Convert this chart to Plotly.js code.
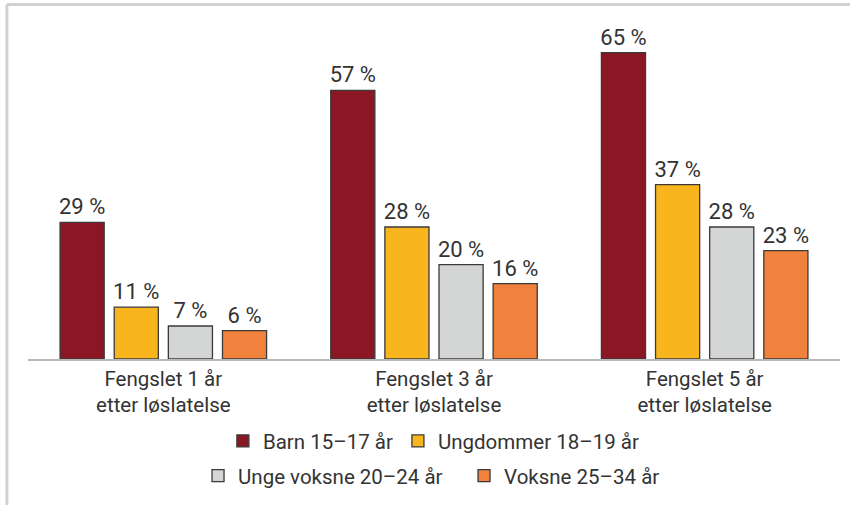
<!DOCTYPE html>
<html>
<head>
<meta charset="utf-8">
<script src="https://cdn.plot.ly/plotly-3.0.1.min.js"></script>
<style>html,body{margin:0;padding:0;background:#fff;}#chart{width:850px;height:505px;}</style>
</head>
<body>
<div id="chart"></div>
<script>
const categories = ["Fengslet 1 år<br>etter løslatelse", "Fengslet 3 år<br>etter løslatelse", "Fengslet 5 år<br>etter løslatelse"];
const seriesNames = ["Barn 15–17 år", "Ungdommer 18–19 år", "Unge voksne 20–24 år", "Voksne 25–34 år"];
const barn = [29, 57, 65];
const ungdommer = [11, 28, 37];
const ungeVoksne = [7, 20, 28];
const voksne = [6, 16, 23];
const colors = ["#8c1724", "#f8b51d", "#d4d6d5", "#f1823e"];

const xPos = categories.map((c, i) => i);
const seriesValues = [barn, ungdommer, ungeVoksne, voksne];
const legendIds = ["legend", "legend", "legend2", "legend2"];

const traces = seriesValues.map((vals, k) => ({
  type: "bar",
  name: seriesNames[k],
  x: xPos,
  y: vals,
  legend: legendIds[k],
  marker: { color: colors[k], line: { color: "#3a3a3a", width: 1.3 } },
  texttemplate: "%{y} %",
  textposition: "outside",
  constraintext: "none",
  cliponaxis: false,
  textfont: { family: "Roboto, sans-serif", size: 22, color: "#333333" },
  hoverinfo: "skip"
}));

const legendFont = { family: "Roboto, sans-serif", size: 20.5, color: "#333333" };

const layout = {
  width: 850,
  height: 505,
  margin: { l: 28, r: 10, t: 29, b: 145 },
  paper_bgcolor: "#ffffff",
  plot_bgcolor: "#ffffff",
  barmode: "group",
  bargap: 0.2,
  bargroupgap: 0.185,
  font: { family: "Roboto, sans-serif", size: 20, color: "#333333" },
  xaxis: {
    range: [-0.5, 2.5],
    tickmode: "array",
    tickvals: xPos,
    ticktext: categories,
    showline: true,
    linecolor: "#b8b8b8",
    linewidth: 2,
    ticks: "",
    showgrid: false,
    zeroline: false,
    fixedrange: true,
    tickfont: { family: "Roboto, sans-serif", size: 20.5, color: "#333333" }
  },
  yaxis: {
    range: [0, 70],
    visible: false,
    showgrid: false,
    zeroline: false,
    fixedrange: true
  },
  showlegend: true,
  legend: {
    orientation: "h",
    x: 0.240, xanchor: "left",
    y: -0.245, yanchor: "middle",
    bgcolor: "rgba(0,0,0,0)",
    font: legendFont,
    itemclick: false, itemdoubleclick: false
  },
  legend2: {
    orientation: "h",
    x: 0.2094, xanchor: "left",
    y: -0.35, yanchor: "middle",
    entrywidth: 221,
    bgcolor: "rgba(0,0,0,0)",
    font: legendFont,
    itemclick: false, itemdoubleclick: false
  },
  shapes: [
    { type: "line", xref: "paper", yref: "paper", x0: -0.026, x1: -0.026, y0: 1.074, y1: -0.45, line: { color: "#d2d2d2", width: 3 } },
    { type: "line", xref: "paper", yref: "paper", x0: -0.026, x1: 1.02, y0: 1.074, y1: 1.074, line: { color: "#d2d2d2", width: 3 } }
  ]
};

Plotly.newPlot("chart", traces, layout, { displayModeBar: false, staticPlot: true });
</script>
</body>
</html>
